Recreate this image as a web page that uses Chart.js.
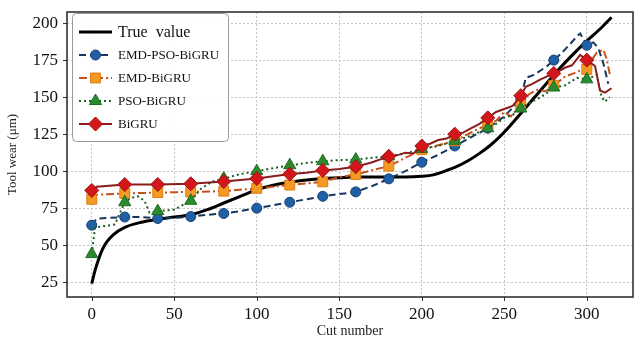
<!DOCTYPE html>
<html>
<head>
<meta charset="utf-8">
<script src="https://cdn.jsdelivr.net/npm/chart.js@4.4.1/dist/chart.umd.min.js"></script>
<style>
  body { margin: 0; background: #fff; }
</style>
</head>
<body>
<canvas id="wear-chart" width="635" height="347"></canvas>

<script>
// tick labels
var xTicks = [0, 50, 100, 150, 200, 250, 300];
var yTicks = [25, 50, 75, 100, 125, 150, 175, 200];

// series names
var seriesNames = ['True  value', 'EMD-PSO-BiGRU', 'EMD-BiGRU', 'PSO-BiGRU', 'BiGRU'];

// True value
var trueCuts = [0, 2, 4, 6, 9, 13, 20, 30, 40, 50, 60, 70, 80, 90, 100, 110, 120, 130, 140, 150, 160, 170, 180, 190, 200, 207, 214, 221, 228, 235, 241, 247, 253, 260, 270, 280, 290, 300, 308, 315];
var trueWear = [24, 33, 40, 46, 52, 57, 62, 65.5, 67.5, 69, 70.5, 74, 78.5, 83, 87.5, 90.5, 92.5, 94, 95, 95.5, 96, 96, 96, 96, 96.5, 97.5, 100, 103, 107, 112, 117, 123, 130, 139, 152, 165, 177, 188, 196, 204];

// EMD-PSO-BiGRU
var emdPsoCuts = [0, 3, 20, 30, 40, 50, 60, 70, 80, 90, 100, 110, 120, 130, 140, 150, 160, 170, 180, 190, 200, 210, 220, 230, 240, 250, 257, 260, 263, 268, 272, 276, 280, 285, 290, 294, 296, 300, 304, 307, 310, 313];
var emdPsoWear = [63.5, 68, 69, 69, 68, 68.5, 69.3, 70.5, 71.4, 73, 75, 77, 79, 81, 83, 84.5, 86, 90, 94.8, 100, 106, 111, 117, 123, 129, 137, 145, 149, 163, 165, 168, 171, 175, 180, 186, 191, 193, 185, 187, 183, 173, 159];

// EMD-BiGRU
var emdCuts = [0, 3, 20, 40, 60, 80, 100, 120, 140, 150, 160, 180, 200, 220, 240, 245, 250, 254, 260, 265, 270, 275, 280, 287, 292, 296, 300, 303, 306, 310, 312, 314];
var emdWear = [81, 84, 85, 85.5, 86, 86.5, 88.4, 90.6, 92.8, 96, 97.8, 103.4, 114.5, 120.5, 131.7, 134, 140, 137, 145, 152, 155, 154, 158, 164, 166, 168, 168.7, 175, 180, 182, 176, 165];

// PSO-BiGRU
var psoCuts = [0, 2, 8, 14, 20, 24, 28, 32, 35, 40, 50, 60, 66, 73, 80, 90, 100, 110, 120, 130, 140, 150, 160, 170, 180, 190, 200, 210, 220, 230, 240, 245, 250, 255, 260, 265, 270, 275, 280, 287, 294, 300, 306, 309, 311, 314];
var psoWear = [44, 62, 63, 64, 79, 82, 83, 80, 72, 73, 74, 80, 88, 93, 95, 98, 100, 102, 104, 105.5, 106.7, 107.5, 107.8, 109, 110, 112, 115, 117, 120.5, 124, 129, 132, 136, 138, 142.3, 146, 148.7, 152, 156.5, 158, 163, 162, 165, 150, 147, 150];

// BiGRU
var biCuts = [0, 3, 20, 40, 60, 80, 100, 110, 120, 130, 140, 150, 160, 170, 180, 186, 190, 195, 200, 205, 210, 215, 220, 225, 230, 235, 240, 245, 250, 255, 260, 263, 267, 272, 276, 280, 284, 287, 291, 296, 300, 305, 308, 311, 315];
var biWear = [87, 89.5, 91, 91, 91.5, 93, 95, 96.5, 98, 99, 100.5, 101.5, 103, 106, 110, 111, 112.5, 112, 117, 118.5, 121, 122, 125, 126, 129, 132, 136, 140, 142, 144, 151, 157, 159, 162, 164, 166, 168, 170, 171.5, 178.5, 175, 171, 154.5, 153, 156];

function pts(xs, ys) {
    return xs.map(function (x, i) { return { x: x, y: ys[i] }; });
}
function markerAt(r) {
    return function (ctx) {
        var p = ctx.raw;
        return (p && p.x % 20 === 0 && p.x <= 300) ? r : 0;
    };
}

var datasets = [
    {
        label: seriesNames[0], data: pts(trueCuts, trueWear),
        borderColor: '#000', borderWidth: 3, pointRadius: 0,
        cubicInterpolationMode: 'monotone', order: 5
    },
    {
        label: seriesNames[1], data: pts(emdPsoCuts, emdPsoWear),
        borderColor: '#17365d', borderWidth: 2, borderDash: [7, 4],
        pointStyle: 'circle', pointRadius: markerAt(5), pointHoverRadius: 0,
        pointBackgroundColor: '#1f5fa6', pointBorderColor: '#17406e', pointBorderWidth: 1, order: 4
    },
    {
        label: seriesNames[2], data: pts(emdCuts, emdWear),
        borderColor: '#c4501c', borderWidth: 2, borderDash: [8, 3, 2, 3],
        pointStyle: 'rect', pointRadius: markerAt(7), pointHoverRadius: 0,
        pointBackgroundColor: '#f39a22', pointBorderColor: '#e07b12', pointBorderWidth: 1, order: 3
    },
    {
        label: seriesNames[3], data: pts(psoCuts, psoWear),
        borderColor: '#1c5e22', borderWidth: 2, borderDash: [2, 3],
        pointStyle: 'triangle', pointRadius: markerAt(7), pointHoverRadius: 0,
        pointBackgroundColor: '#2b8a2e', pointBorderColor: '#1f6a22', pointBorderWidth: 1, order: 2
    },
    {
        label: seriesNames[4], data: pts(biCuts, biWear),
        borderColor: '#8a1c1c', borderWidth: 2,
        pointStyle: 'rectRot', pointRadius: markerAt(7), pointHoverRadius: 0,
        pointBackgroundColor: '#d2161b', pointBorderColor: '#a01010', pointBorderWidth: 1, order: 1
    }
];

// frame + tick marks
var framePlugin = {
    id: 'frame',
    afterDraw: function (chart) {
        var ctx = chart.ctx, a = chart.chartArea;
        var xs = chart.scales.x, ys = chart.scales.y;
        ctx.save();
        ctx.strokeStyle = '#333';
        ctx.lineWidth = 1;
        xTicks.forEach(function (v) {
            var px = Math.round(xs.getPixelForValue(v)) + 0.5;
            ctx.beginPath(); ctx.moveTo(px, a.bottom); ctx.lineTo(px, a.bottom + 4); ctx.stroke();
        });
        yTicks.forEach(function (v) {
            var py = Math.round(ys.getPixelForValue(v)) + 0.5;
            ctx.beginPath(); ctx.moveTo(a.left - 4, py); ctx.lineTo(a.left, py); ctx.stroke();
        });
        ctx.lineWidth = 1.6;
        ctx.strokeRect(a.left, a.top, a.right - a.left, a.bottom - a.top);
        ctx.restore();
    }
};

// legend drawn inside the plot, matplotlib style
var legendPlugin = {
    id: 'innerLegend',
    afterDraw: function (chart) {
        var ctx = chart.ctx;
        var bx = 72, by = 13, bw = 156, bh = 128;
        ctx.save();
        ctx.fillStyle = 'rgba(255,255,255,0.9)';
        ctx.strokeStyle = '#9a9a9a';
        ctx.lineWidth = 1;
        ctx.beginPath();
        ctx.roundRect(bx + 0.5, by + 0.5, bw, bh, 4);
        ctx.fill();
        ctx.stroke();

        var rows = [32, 55, 78, 101, 124];
        chart.data.datasets.forEach(function (ds, i) {
            var y = rows[i];
            ctx.save();
            ctx.strokeStyle = ds.borderColor;
            ctx.lineWidth = ds.borderWidth;
            ctx.setLineDash(ds.borderDash || []);
            ctx.beginPath(); ctx.moveTo(79, y); ctx.lineTo(112, y); ctx.stroke();
            ctx.restore();
            if (i > 0) {
                ctx.save();
                ctx.fillStyle = ds.pointBackgroundColor;
                ctx.strokeStyle = ds.pointBorderColor;
                ctx.lineWidth = 1;
                var r = ds.pointStyle === 'circle' ? 5 : 7;
                Chart.helpers.drawPoint(ctx, { pointStyle: ds.pointStyle, radius: r, borderWidth: 1, rotation: 0 }, 95.5, y);
                ctx.restore();
            }
            ctx.fillStyle = '#111';
            ctx.font = (i === 0 ? '16px' : '13px') + ' "Liberation Serif", serif';
            ctx.textBaseline = 'middle';
            ctx.fillText(ds.label, 118, y + 1);
        });
        ctx.restore();
    }
};

var gridStyle = { color: '#c4c4c4', lineWidth: 1, drawTicks: false };

function noPad(s) {
    s.paddingLeft = 0; s.paddingRight = 0; s.paddingTop = 0; s.paddingBottom = 0;
}

new Chart(document.getElementById('wear-chart'), {
    type: 'line',
    data: { datasets: datasets },
    options: {
        responsive: false,
        animation: false,
        events: [],
        layout: { autoPadding: false, padding: { top: 12, right: 2, left: 0, bottom: 0 } },
        plugins: { legend: { display: false }, tooltip: { enabled: false } },
        scales: {
            x: {
                type: 'linear', min: -15, max: 328,
                afterBuildTicks: function (s) { s.ticks = xTicks.map(function (v) { return { value: v }; }); },
                afterFit: function (s) { s.height = 50; noPad(s); },
                grid: gridStyle,
                border: { display: false, dash: [2, 2] },
                ticks: { color: '#111', padding: 7, maxRotation: 0, font: { family: '"Liberation Serif", serif', size: 17 } },
                title: { display: true, text: 'Cut number', color: '#222', padding: { top: 2, bottom: 7 },
                    font: { family: '"Liberation Serif", serif', size: 14 } }
            },
            y: {
                type: 'linear', min: 15, max: 207.5,
                afterBuildTicks: function (s) { s.ticks = yTicks.map(function (v) { return { value: v }; }); },
                afterFit: function (s) { s.width = 67; noPad(s); },
                grid: gridStyle,
                border: { display: false, dash: [2, 2] },
                ticks: { color: '#111', padding: 9, font: { family: '"Liberation Serif", serif', size: 17 } },
                title: { display: true, text: 'Tool wear (μm)', color: '#222', padding: { top: 5, bottom: 2 },
                    font: { family: '"Liberation Serif", serif', size: 13 } }
            }
        }
    },
    plugins: [framePlugin, legendPlugin]
});
</script>
</body>
</html>
